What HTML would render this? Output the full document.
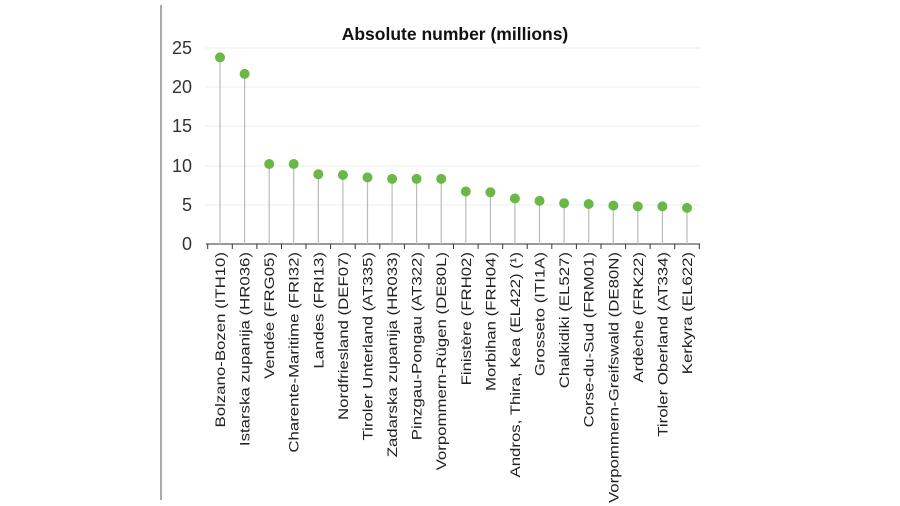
<!DOCTYPE html>
<html><head><meta charset="utf-8"><style>body{margin:0;background:#fff}svg{display:block}</style></head>
<body>
<svg width="900" height="506" xmlns="http://www.w3.org/2000/svg" font-family="Liberation Sans, Arial, sans-serif">
<rect width="900" height="506" fill="#fff"/>
<line x1="161" y1="5" x2="161" y2="500" stroke="#555" stroke-width="1"/>
<text x="455" y="40" font-size="17.5" font-weight="bold" text-anchor="middle" fill="#111">Absolute number (millions)</text>
<g stroke="#eee" stroke-width="1">
<line x1="205" y1="48" x2="700" y2="48"/><line x1="205" y1="87" x2="700" y2="87"/><line x1="205" y1="126" x2="700" y2="126"/><line x1="205" y1="166" x2="700" y2="166"/><line x1="205" y1="205" x2="700" y2="205"/>
</g>
<g font-size="18" fill="#333" text-anchor="end">
<text x="192" y="54">25</text><text x="192" y="93">20</text><text x="192" y="132">15</text><text x="192" y="172">10</text><text x="192" y="211">5</text><text x="192" y="250">0</text>
</g>
<line x1="206" y1="244" x2="700" y2="244" stroke="#333"/>
<g stroke="#333">
<line x1="207.7" y1="244" x2="207.7" y2="249"/><line x1="232.3" y1="244" x2="232.3" y2="249"/><line x1="256.9" y1="244" x2="256.9" y2="249"/><line x1="281.5" y1="244" x2="281.5" y2="249"/><line x1="306.0" y1="244" x2="306.0" y2="249"/><line x1="330.6" y1="244" x2="330.6" y2="249"/><line x1="355.2" y1="244" x2="355.2" y2="249"/><line x1="379.8" y1="244" x2="379.8" y2="249"/><line x1="404.4" y1="244" x2="404.4" y2="249"/><line x1="428.9" y1="244" x2="428.9" y2="249"/><line x1="453.5" y1="244" x2="453.5" y2="249"/><line x1="478.1" y1="244" x2="478.1" y2="249"/><line x1="502.7" y1="244" x2="502.7" y2="249"/><line x1="527.2" y1="244" x2="527.2" y2="249"/><line x1="551.8" y1="244" x2="551.8" y2="249"/><line x1="576.4" y1="244" x2="576.4" y2="249"/><line x1="601.0" y1="244" x2="601.0" y2="249"/><line x1="625.6" y1="244" x2="625.6" y2="249"/><line x1="650.1" y1="244" x2="650.1" y2="249"/><line x1="674.7" y1="244" x2="674.7" y2="249"/><line x1="699.3" y1="244" x2="699.3" y2="249"/>
</g>
<g stroke="#bbb" stroke-width="1.2">
<line x1="220" y1="244" x2="220" y2="57.4"/><line x1="244.6" y1="244" x2="244.6" y2="73.9"/><line x1="269.2" y1="244" x2="269.2" y2="164"/><line x1="293.7" y1="244" x2="293.7" y2="164"/><line x1="318.3" y1="244" x2="318.3" y2="174.2"/><line x1="342.9" y1="244" x2="342.9" y2="175"/><line x1="367.5" y1="244" x2="367.5" y2="177.4"/><line x1="392.1" y1="244" x2="392.1" y2="178.9"/><line x1="416.6" y1="244" x2="416.6" y2="178.9"/><line x1="441.2" y1="244" x2="441.2" y2="178.9"/><line x1="465.8" y1="244" x2="465.8" y2="191.5"/><line x1="490.4" y1="244" x2="490.4" y2="192.3"/><line x1="514.9" y1="244" x2="514.9" y2="198.5"/><line x1="539.5" y1="244" x2="539.5" y2="200.9"/><line x1="564.1" y1="244" x2="564.1" y2="203.2"/><line x1="588.7" y1="244" x2="588.7" y2="204"/><line x1="613.3" y1="244" x2="613.3" y2="205.6"/><line x1="637.8" y1="244" x2="637.8" y2="206.4"/><line x1="662.4" y1="244" x2="662.4" y2="206.4"/><line x1="687" y1="244" x2="687" y2="207.9"/>
</g>
<g fill="#6ab845">
<circle cx="220" cy="57.4" r="5"/><circle cx="244.6" cy="73.9" r="5"/><circle cx="269.2" cy="164" r="5"/><circle cx="293.7" cy="164" r="5"/><circle cx="318.3" cy="174.2" r="5"/><circle cx="342.9" cy="175" r="5"/><circle cx="367.5" cy="177.4" r="5"/><circle cx="392.1" cy="178.9" r="5"/><circle cx="416.6" cy="178.9" r="5"/><circle cx="441.2" cy="178.9" r="5"/><circle cx="465.8" cy="191.5" r="5"/><circle cx="490.4" cy="192.3" r="5"/><circle cx="514.9" cy="198.5" r="5"/><circle cx="539.5" cy="200.9" r="5"/><circle cx="564.1" cy="203.2" r="5"/><circle cx="588.7" cy="204" r="5"/><circle cx="613.3" cy="205.6" r="5"/><circle cx="637.8" cy="206.4" r="5"/><circle cx="662.4" cy="206.4" r="5"/><circle cx="687" cy="207.9" r="5"/>
</g>
<g font-size="14" fill="#222" text-anchor="end">
<text transform="translate(225,252) rotate(-90) scale(1.2,1)">Bolzano-Bozen (ITH10)</text>
<text transform="translate(249.6,252) rotate(-90) scale(1.2,1)">Istarska zupanija (HR036)</text>
<text transform="translate(274.2,252) rotate(-90) scale(1.2,1)">Vendée (FRG05)</text>
<text transform="translate(298.7,252) rotate(-90) scale(1.2,1)">Charente-Maritime (FRI32)</text>
<text transform="translate(323.3,252) rotate(-90) scale(1.2,1)">Landes (FRI13)</text>
<text transform="translate(347.9,252) rotate(-90) scale(1.2,1)">Nordfriesland (DEF07)</text>
<text transform="translate(372.5,252) rotate(-90) scale(1.2,1)">Tiroler Unterland (AT335)</text>
<text transform="translate(397.1,252) rotate(-90) scale(1.2,1)">Zadarska zupanija (HR033)</text>
<text transform="translate(421.6,252) rotate(-90) scale(1.2,1)">Pinzgau-Pongau (AT322)</text>
<text transform="translate(446.2,252) rotate(-90) scale(1.2,1)">Vorpommern-Rügen (DE80L)</text>
<text transform="translate(470.8,252) rotate(-90) scale(1.2,1)">Finistère (FRH02)</text>
<text transform="translate(495.4,252) rotate(-90) scale(1.2,1)">Morbihan (FRH04)</text>
<text transform="translate(519.9,252) rotate(-90) scale(1.2,1)">Andros, Thira, Kea (EL422) (¹)</text>
<text transform="translate(544.5,252) rotate(-90) scale(1.2,1)">Grosseto (ITI1A)</text>
<text transform="translate(569.1,252) rotate(-90) scale(1.2,1)">Chalkidiki (EL527)</text>
<text transform="translate(593.7,252) rotate(-90) scale(1.2,1)">Corse-du-Sud (FRM01)</text>
<text transform="translate(618.3,252) rotate(-90) scale(1.2,1)">Vorpommern-Greifswald (DE80N)</text>
<text transform="translate(642.8,252) rotate(-90) scale(1.2,1)">Ardèche (FRK22)</text>
<text transform="translate(667.4,252) rotate(-90) scale(1.2,1)">Tiroler Oberland (AT334)</text>
<text transform="translate(692,252) rotate(-90) scale(1.2,1)">Kerkyra (EL622)</text>
</g>
</svg>
</body></html>
